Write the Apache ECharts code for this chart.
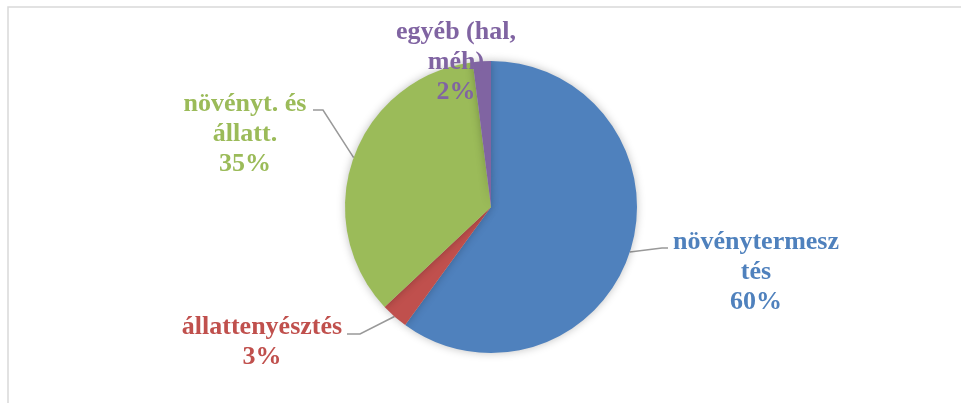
<!DOCTYPE html>
<html>
<head>
<meta charset="utf-8">
<script src="https://cdn.jsdelivr.net/npm/echarts@6/dist/echarts.min.js"></script>
<style>
  html, body { margin: 0; padding: 0; background: #fff; }
  #chart { width: 961px; height: 403px; }
</style>
</head>
<body>
<div id="chart"></div>
<script>
  // slice names as shown (with the same line breaks as the picture)
  var categories = ['növénytermesz\ntés', 'állattenyésztés', 'növényt. és\nállatt.', 'egyéb (hal,\nméh)'];
  var shares = [60, 3, 35, 2];
  var colors = ['#4F81BD', '#C0504D', '#9BBB59', '#8064A2'];

  // where each label sits (center x, top y) and where its leader bends
  var labelSpots = [
    { x: 756, y: 227, bend: [[662, 248], [668, 248]] },
    { x: 262, y: 312, bend: [[360, 334], [347, 334]] },
    { x: 245, y: 89,  bend: [[323, 110], [313, 110]] },
    { x: 456, y: 17,  bend: null }
  ];

  var myChart = echarts.init(document.getElementById('chart'));

  var pieData = categories.map(function (name, i) {
    return {
      name: name,
      value: shares[i],
      itemStyle: { color: colors[i] },
      label: { color: colors[i] },
      labelLine: { show: labelSpots[i].bend !== null }
    };
  });

  myChart.setOption({
    backgroundColor: '#fff',
    animation: false,
    graphic: [{
      type: 'rect',
      shape: { x: 8, y: 7, width: 1000, height: 500 },
      style: { fill: 'none', stroke: '#d9d9d9', lineWidth: 1.5 },
      silent: true
    }],
    series: [{
      type: 'pie',
      center: [491, 207],
      radius: 146,
      startAngle: 90,
      clockwise: true,
      data: pieData,
      itemStyle: {
        borderWidth: 0,
        shadowBlur: 8,
        shadowColor: 'rgba(0,0,0,0.25)'
      },
      label: {
        show: true,
        position: 'outside',
        formatter: '{b}\n{d}%',
        fontFamily: '"Liberation Serif", "Times New Roman", serif',
        fontWeight: 'bold',
        fontSize: 26,
        lineHeight: 30
      },
      labelLine: {
        lineStyle: { color: '#999999', width: 1.5 }
      },
      labelLayout: function (params) {
        var spot = labelSpots[params.dataIndex];
        var out = { x: spot.x, y: spot.y, align: 'center', verticalAlign: 'top' };
        if (spot.bend && params.labelLinePoints) {
          out.labelLinePoints = [params.labelLinePoints[0], spot.bend[0], spot.bend[1]];
        }
        return out;
      }
    }]
  });
</script>
</body>
</html>
